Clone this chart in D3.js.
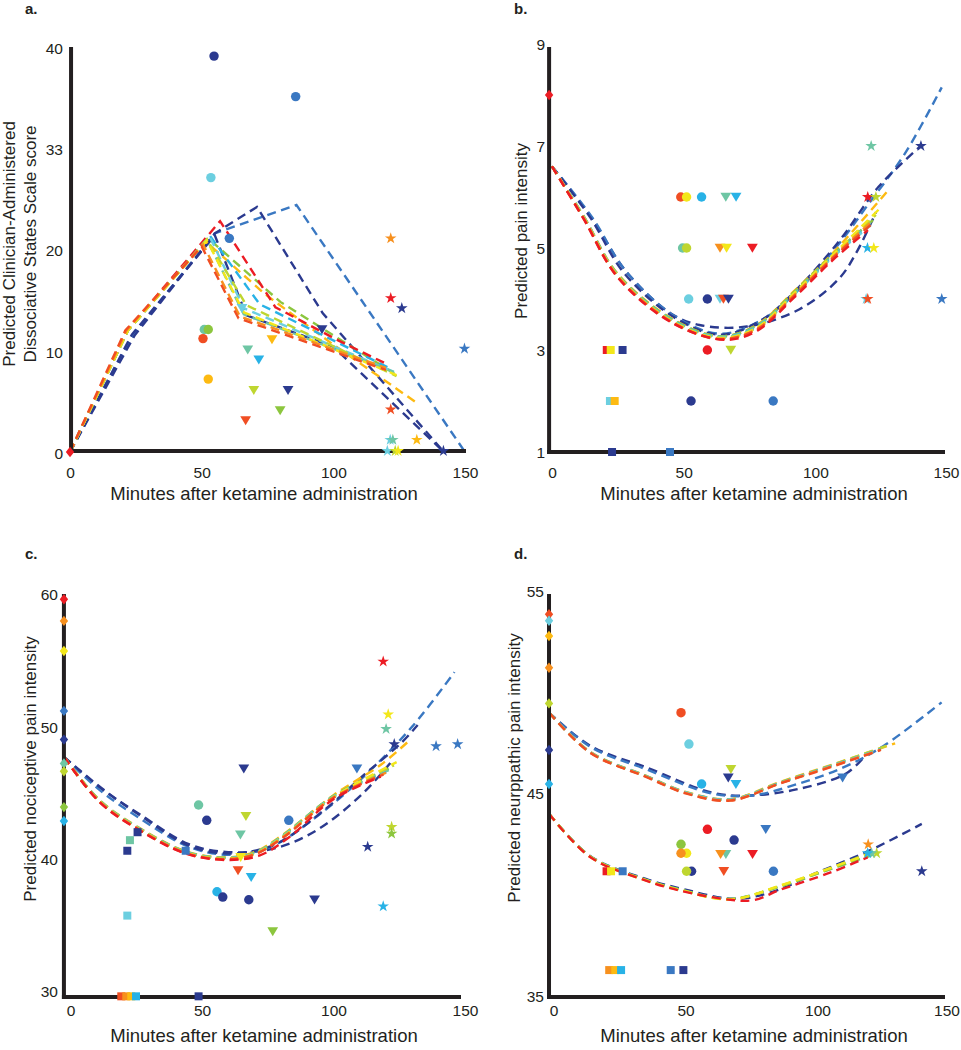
<!DOCTYPE html>
<html><head><meta charset="utf-8">
<script src="https://cdnjs.cloudflare.com/ajax/libs/d3/7.8.5/d3.min.js"></script>
<style>
html,body{margin:0;padding:0;background:#fff;}
text{font-family:"Liberation Sans",Arial,sans-serif;fill:#231f20;}
</style></head>
<body>
<svg id="chart" width="961" height="1050"></svg>
<script>
// ---------- palette ----------
const palette = {
  red:"#ec1c24", redorange:"#f04e23", orange:"#f7901e", gold:"#fdba12",
  yellow:"#f3e71a", ygreen:"#bfd630", green:"#8cc63e", teal:"#6ec6a4",
  lcyan:"#6ccfe0", sky:"#28b2e6", blue:"#3a78c2", navy:"#2b3a8f"
};

// ---------- tick labels ----------
const xTickValues = [0, 50, 100, 150];
const aYTickValues = [0, 10, 20, 30, 40];
const aYTickLabels = ["0", "10", "20", "33", "40"];
const bYTickValues = [1, 3, 5, 7, 9];
const cYTickValues = [30, 40, 50, 60];
const dYTickValues = [35, 45, 55];

// ---------- panel a: points [minute, value, shape, color] ----------
const aPoints = [
  [0,0,"diamond","red"],
  [54.7,39.1,"circle","navy"],[85.7,35.1,"circle","blue"],[53.5,27.1,"circle","lcyan"],
  [60.5,21.1,"circle","blue"],[51,12.1,"circle","teal"],[52.5,12.1,"circle","green"],
  [50.5,11.2,"circle","redorange"],[52.5,7.2,"circle","gold"],
  [65.3,14.2,"tri","lcyan"],[67.5,10.1,"tri","teal"],[71.7,9.1,"tri","sky"],[76.7,11.1,"tri","gold"],
  [95.7,12.1,"tri","navy"],[69.8,6.1,"tri","ygreen"],[82.8,6.1,"tri","navy"],
  [79.8,4.1,"tri","green"],[66.7,3.1,"tri","redorange"],
  [121.8,21.1,"star","orange"],[121.8,15.2,"star","red"],[126,14.2,"star","navy"],
  [149.8,10.2,"star","blue"],[121.8,4.2,"star","redorange"],[121.6,1.2,"star","lcyan"],
  [122.6,1.2,"star","teal"],[131.7,1.2,"star","gold"],[120.5,0.1,"star","lcyan"],
  [123.5,0.1,"star","ygreen"],[124.6,0.1,"star","yellow"],[141.8,0.1,"star","navy"]
];
// ---------- panel a: predicted curves [color, [[minute,value],...]] ----------
const aCurves = [
  ["blue",     [[0,0],[24,11.6],[55,21.6],[86,24.4],[150,0]]],
  ["navy",     [[0,0],[24.5,11.5],[55,21.6],[71,24.2],[96,13.7],[142,0]]],
  ["navy",     [[0,0],[23.5,11.6],[55,21.4],[67,13.5],[100,10.4],[142,0]]],
  ["green",    [[0,0],[22,12],[52.5,21.1],[80,14.8],[124,7.6]]],
  ["gold",     [[0,0],[22,12],[51.5,20.8],[74,15.6],[100,10.6],[132,4.8]]],
  ["sky",      [[0,0],[22,12],[53,21.4],[72,14.6],[122,8.2]]],
  ["red",      [[0,0],[22,12.1],[57,22.8],[78,14.3],[102,11],[121,8.6]]],
  ["lcyan",    [[0,0],[22,12],[53,21.3],[66,14.2],[124,7.8]]],
  ["teal",     [[0,0],[22,12],[52,21],[66,13.6],[123,7.9]]],
  ["ygreen",   [[0,0],[22,12],[52,21],[67,14.5],[124,7.5]]],
  ["yellow",   [[0,0],[22,12],[52,20.9],[66,13.8],[124,7.6]]],
  ["orange",   [[0,0],[21.5,12],[50.5,20.5],[64.5,13.4],[120,8.3]]],
  ["redorange",[[0,0],[21,12],[50,20.3],[64,13.2],[120,8.1]]]
];

// ---------- panel b ----------
const bPoints = [
  [-1.1,8,"diamond","red"],
  [48.9,6,"circle","redorange"],[51.1,6,"circle","yellow"],[56.8,6,"circle","sky"],
  [66,6,"tri","teal"],[69.9,6,"tri","sky"],
  [49.6,5,"circle","teal"],[51.1,5,"circle","ygreen"],
  [63.8,5,"tri","orange"],[66.3,5,"tri","yellow"],[76.1,5,"tri","red"],
  [51.9,4,"circle","lcyan"],[59,4,"circle","navy"],
  [63.8,4,"tri","lcyan"],[65.1,4,"tri","redorange"],[67,4,"tri","navy"],
  [20.8,3,"square","red"],[22.3,3,"square","yellow"],[26.8,3,"square","navy"],
  [59,3,"circle","red"],[67.9,3,"tri","ygreen"],
  [22,2,"square","lcyan"],[23.8,2,"square","gold"],[52.8,2,"circle","navy"],[84,2,"circle","blue"],
  [22.8,1,"square","navy"],[44.8,1,"square","blue"],
  [121.2,7,"star","teal"],[140.1,7,"star","navy"],
  [119.9,6,"star","red"],[123,6,"star","ygreen"],
  [119.8,5,"star","sky"],[122.2,5,"star","yellow"],
  [119.3,4,"star","lcyan"],[119.9,4,"star","redorange"],[148,4,"star","blue"]
];
const bCurves = [
  ["navy",     [[0,6.6],[15,5.6],[28,4.55],[45,3.72],[56,3.49],[74,3.46],[94,3.8],[109,4.4],[116,4.95],[123,5.7]]],
  ["blue",     [[0,6.6],[15,5.62],[28,4.55],[47,3.65],[64,3.32],[80,3.6],[95,4.25],[110,5.15],[120,5.85],[134,6.85],[148,8.15]]],
  ["navy",     [[0,6.6],[14.5,5.6],[27.5,4.5],[47,3.62],[64,3.3],[80,3.6],[95,4.3],[110,5.2],[124,6.2],[140,7.0]]],
  ["gold",     [[0,6.6],[12,5.63],[25,4.49],[46,3.6],[64,3.27],[78,3.5],[92,4.16],[107,4.92],[128,6.15]]],
  ["green",    [[0,6.6],[12,5.62],[25,4.48],[46,3.59],[64,3.27],[78,3.49],[92,4.14],[107,4.89],[122,5.55]]],
  ["teal",     [[0,6.6],[12,5.62],[25,4.47],[46,3.58],[64,3.26],[78,3.48],[92,4.12],[107,4.87],[121,5.5]]],
  ["sky",      [[0,6.6],[12,5.61],[25,4.46],[46,3.57],[64,3.25],[78,3.46],[92,4.1],[107,4.85],[121,5.45]]],
  ["lcyan",    [[0,6.6],[12,5.61],[25,4.46],[46,3.56],[64,3.25],[78,3.45],[92,4.09],[107,4.84],[120,5.4]]],
  ["ygreen",   [[0,6.6],[12,5.6],[25,4.45],[46,3.56],[64,3.24],[78,3.45],[92,4.12],[107,4.88],[123,5.65]]],
  ["yellow",   [[0,6.6],[12,5.6],[25,4.45],[46,3.55],[64,3.23],[78,3.44],[92,4.11],[107,4.88],[124,5.75]]],
  ["orange",   [[0,6.6],[12,5.59],[25,4.44],[46,3.54],[64,3.22],[78,3.42],[92,4.08],[107,4.84],[122,5.55]]],
  ["redorange",[[0,6.6],[12,5.58],[25,4.43],[46,3.53],[64,3.21],[78,3.41],[92,4.06],[107,4.82],[121,5.45]]],
  ["red",      [[0,6.6],[12,5.57],[25,4.42],[46,3.52],[66,3.2],[78,3.38],[92,4.03],[107,4.78],[120,5.35]]]
];

// ---------- panel c ----------
const cPoints = [
  [-2.5,59.9,"diamond","red"],[-2.5,58.27,"diamond","orange"],[-2.5,56.0,"diamond","yellow"],
  [-2.5,51.47,"diamond","blue"],[-2.5,49.3,"diamond","navy"],[-2.5,47.5,"diamond","teal"],
  [-2.5,46.9,"diamond","ygreen"],[-2.5,44.2,"diamond","green"],[-2.5,43.15,"diamond","sky"],
  [25.5,42.3,"square","navy"],[22.6,41.7,"square","teal"],[21.6,40.9,"square","navy"],
  [43.8,40.9,"square","blue"],[21.6,36.0,"square","lcyan"],
  [19.3,29.9,"square","redorange"],[21.2,29.9,"square","orange"],[23.1,29.9,"square","gold"],
  [24.9,29.9,"square","sky"],[48.7,29.9,"square","navy"],
  [48.7,44.36,"circle","teal"],[51.8,43.2,"circle","navy"],[83,43.2,"circle","blue"],
  [55.7,37.8,"circle","sky"],[57.9,37.4,"circle","navy"],[67.8,37.2,"circle","navy"],
  [65.9,47.1,"tri","navy"],[108.9,47.1,"tri","blue"],[66.7,43.5,"tri","ygreen"],
  [64.6,42.1,"tri","teal"],[64.7,40.4,"tri","yellow"],[63.7,39.4,"tri","redorange"],
  [68.7,38.9,"tri","sky"],[92.8,37.2,"tri","navy"],[76.9,34.8,"tri","green"],
  [118.9,55.2,"star","red"],[120.8,51.2,"star","yellow"],[120,50.1,"star","teal"],
  [123.1,48.95,"star","navy"],[139,48.8,"star","blue"],[147.2,48.95,"star","blue"],
  [122.1,42.7,"star","ygreen"],[122.1,42.2,"star","green"],[113,41.2,"star","navy"],
  [118.9,36.7,"star","sky"]
];
const cCurves = [
  ["navy",     [[-2.5,48],[11,45.7],[26,43.7],[45,41.4],[60,40.8],[78,41.1],[94,42.5],[111,45.2],[122.7,47.8]]],
  ["blue",     [[-2.5,48],[11,45.5],[26,43.4],[45,41.2],[60,40.6],[76,41.2],[95,43.7],[112,46.6],[130,50.3],[146,54.4]]],
  ["navy",     [[-2.5,48],[12,45.6],[27,43.5],[46,41.2],[62,40.7],[78,41.4],[96,43.9],[112,46.7],[126,49.1],[132,50.4]]],
  ["gold",     [[-2.5,48],[11,44.75],[26,42.65],[44,40.85],[59,40.4],[70,40.8],[81,42.15],[100,45.1],[118,47.4],[128.4,49.15]]],
  ["green",    [[-2.5,48],[11,44.72],[26,42.62],[44,40.82],[59,40.37],[70,40.75],[81,42.1],[100,45.05],[122,47.2]]],
  ["teal",     [[-2.5,48],[11,44.7],[26,42.6],[44,40.8],[59,40.35],[70,40.73],[81,42.07],[100,45.02],[121,47.0]]],
  ["lcyan",    [[-2.5,48],[11,44.68],[26,42.58],[44,40.78],[59,40.33],[70,40.71],[81,42.04],[100,44.99],[120,46.9]]],
  ["sky",      [[-2.5,48],[11,44.66],[26,42.56],[44,40.76],[59,40.31],[70,40.69],[81,42.01],[100,44.96],[120,46.85]]],
  ["ygreen",   [[-2.5,48],[11,44.65],[26,42.55],[44,40.75],[59,40.3],[70,40.68],[81,42.0],[100,44.97],[123,47.35]]],
  ["yellow",   [[-2.5,48],[11,44.64],[26,42.54],[44,40.74],[59,40.29],[70,40.67],[81,41.98],[100,44.95],[124,47.6]]],
  ["orange",   [[-2.5,48],[11,44.62],[26,42.52],[44,40.72],[59,40.27],[70,40.64],[81,41.95],[100,44.92],[120,46.8]]],
  ["redorange",[[-2.5,48],[11,44.6],[26,42.5],[44,40.7],[59,40.25],[70,40.62],[81,41.92],[100,44.9],[119,46.65]]],
  ["red",      [[-2.5,48],[11,44.58],[26,42.47],[44,40.67],[60,40.2],[72,40.55],[83,41.9],[100,44.8],[118,46.5]]]
];

// ---------- panel d ----------
const dPoints = [
  [-1.7,53.85,"diamond","redorange"],[-1.7,53.53,"diamond","lcyan"],[-1.7,52.78,"diamond","gold"],
  [-1.7,51.21,"diamond","orange"],[-1.7,49.45,"diamond","ygreen"],[-1.7,47.15,"diamond","navy"],
  [-1.7,45.47,"diamond","sky"],
  [48.3,48.99,"circle","redorange"],[51.3,47.44,"circle","lcyan"],[56.1,45.47,"circle","sky"],
  [58.3,43.23,"circle","red"],[68.4,42.7,"circle","navy"],[48.3,42.49,"circle","green"],
  [50.4,42.05,"circle","yellow"],[48.3,42.05,"circle","orange"],
  [52.3,41.16,"circle","navy"],[50.4,41.16,"circle","ygreen"],[83.3,41.16,"circle","blue"],
  [67.2,46.2,"tri","ygreen"],[66.2,45.78,"tri","navy"],[69.1,45.45,"tri","sky"],
  [109.5,45.78,"tri","blue"],[80.4,43.23,"tri","blue"],
  [65.3,42.0,"tri","teal"],[63.3,42.0,"tri","orange"],[75.4,42.0,"tri","red"],[64.5,41.16,"tri","redorange"],
  [20.1,41.16,"square","red"],[21.8,41.16,"square","yellow"],[26.2,41.16,"square","blue"],
  [21.1,36.28,"square","orange"],[23.4,36.28,"square","gold"],[25.6,36.28,"square","sky"],
  [44.4,36.28,"square","blue"],[49.2,36.28,"square","navy"],
  [119.2,42.49,"star","orange"],[122.4,42.05,"star","ygreen"],[120.5,42.05,"star","teal"],
  [119,42.05,"star","sky"],[139.5,41.16,"star","navy"]
];
const dCurves = [
  ["navy",     [[-1.7,49],[14,47.35],[35,46.3],[60,45.05],[73,44.9],[92,45.2],[111,46.0],[118.6,46.95]]],
  ["blue",     [[-1.7,49],[14,47.3],[35,46.2],[60,45.0],[75,44.9],[92,45.45],[110,46.3],[125,47.35],[147,49.5]]],
  ["gold",     [[-1.7,49],[14,47.05],[35,45.88],[50,45.08],[67,44.72],[86,45.58],[105,46.4],[129.4,47.48]]],
  ["ygreen",   [[-1.7,49],[14,47.04],[35,45.87],[50,45.07],[67,44.71],[86,45.56],[105,46.38],[126,47.35]]],
  ["sky",      [[-1.7,49],[14,47.03],[35,45.86],[50,45.06],[67,44.7],[86,45.54],[105,46.36],[124,47.2]]],
  ["lcyan",    [[-1.7,49],[14,47.02],[35,45.85],[50,45.05],[67,44.69],[86,45.52],[105,46.34],[124,47.18]]],
  ["orange",   [[-1.7,49],[14,47.01],[35,45.84],[50,45.03],[67,44.67],[86,45.52],[105,46.33],[124,47.17]]],
  ["redorange",[[-1.7,49],[14,47.0],[35,45.82],[50,45.01],[67,44.65],[86,45.5],[105,46.3],[124,47.15]]],
  ["navy",     [[-1.7,44],[14,41.9],[35,40.78],[50,40.25],[68,39.8],[82,40.1],[100,41.1],[120,42.2],[139.5,43.5]]],
  ["teal",     [[-1.7,44],[14,41.89],[35,40.74],[48,40.26],[67,39.8],[86,40.42],[105,41.27],[120.5,41.95]]],
  ["green",    [[-1.7,44],[14,41.88],[35,40.73],[48,40.25],[67,39.79],[86,40.42],[105,41.28],[121,42.0]]],
  ["ygreen",   [[-1.7,44],[14,41.87],[35,40.72],[48,40.24],[67,39.78],[86,40.45],[105,41.32],[122.4,42.2]]],
  ["yellow",   [[-1.7,44],[14,41.86],[35,40.71],[48,40.23],[67,39.77],[86,40.46],[105,41.33],[122,42.12]]],
  ["red",      [[-1.7,44],[14,41.85],[35,40.7],[48,40.2],[67,39.75],[76,39.74],[86,40.25],[105,41.1],[119,41.85]]]
];

// ---------- layout (positions/styles) ----------
const panels = [
  {label:"a.", labelX:25, labelY:14, pts:aPoints, curves:aCurves, curve:d3.curveLinear,
   xr:[70,465], yd:[0,40], yr:[452,47], axisT:0.4, yTop:47, yBot:453, xEnd:466, xAxisY:451,
   yTicks:aYTickValues, yLabels:aYTickLabels, yLabRight:63, yLabDy:1, xLabY:473, lastDx:0,
   titleX:264, titleY:500, yTitle:["Predicted Clinician-Administered","Dissociative States Scale score"],
   yTitleX:[15,36], yTitleY:244},
  {label:"b.", labelX:514, labelY:14, pts:bPoints, curves:bCurves, curve:d3.curveCatmullRom,
   xr:[552,947], yd:[1,9], yr:[452,44], axisT:-1.1, yTop:47, yBot:454, xEnd:945, xAxisY:452,
   yTicks:bYTickValues, yLabels:bYTickValues.map(String), yLabRight:545, yLabDy:0, xLabY:473, lastDx:-1,
   titleX:754, titleY:500, yTitle:["Predicted pain intensity"], yTitleX:[527], yTitleY:231},
  {label:"c.", labelX:25, labelY:559, pts:cPoints, curves:cCurves, curve:d3.curveCatmullRom,
   xr:[70.5,465], yd:[30,60], yr:[995,598], axisT:-2.5, yTop:594, yBot:999, xEnd:461, xAxisY:997,
   yTicks:cYTickValues, yLabels:cYTickValues.map(String), yLabRight:58, yLabDy:-3.5, xLabY:1011, lastDx:0,
   titleX:264, titleY:1042, yTitle:["Predicted nociceptive pain intensity"], yTitleX:[36], yTitleY:769},
  {label:"d.", labelX:514, labelY:559, pts:dPoints, curves:dCurves, curve:d3.curveCatmullRom,
   xr:[553.5,949.5], yd:[35,55], yr:[996,591], axisT:-1.7, yTop:594, yBot:999, xEnd:945, xAxisY:997,
   yTicks:dYTickValues, yLabels:dYTickValues.map(String), yLabRight:544, yLabDy:0, xLabY:1011, lastDx:-3,
   titleX:754, titleY:1042, yTitle:["Predicted neurppathic pain intensity"], yTitleX:[520], yTitleY:768}
];

const svg = d3.select("#chart");

function markerPath(shape){
  switch(shape){
    case "circle": return d3.symbol().type(d3.symbolCircle).size(70)();
    case "square": return "M-4,-4H4V4H-4Z";
    case "diamond": return "M0,-5.2L4.2,0L0,5.2L-4.2,0Z";
    case "tri": return "M-5.4,-4.3L5.4,-4.3L0,4.7Z";
    case "star": return d3.symbol().type(d3.symbolStar).size(42)();
  }
}

panels.forEach(p => {
  const x = d3.scaleLinear().domain([0,150]).range(p.xr);
  const y = d3.scaleLinear().domain(p.yd).range(p.yr);
  const g = svg.append("g");
  const ax = x(p.axisT);

  // curves
  const line = d3.line().x(d => x(d[0])).y(d => y(d[1])).curve(p.curve);
  g.append("g").selectAll("path").data(p.curves).join("path")
    .attr("d", d => line(d[1]))
    .attr("fill","none")
    .attr("stroke", d => palette[d[0]])
    .attr("stroke-width", 2.4)
    .attr("stroke-dasharray","9,5.5");

  // axes lines
  g.append("line").attr("x1",ax).attr("x2",ax).attr("y1",p.yTop).attr("y2",p.yBot)
    .attr("stroke","#231f20").attr("stroke-width",4);
  g.append("line").attr("x1",ax-2).attr("x2",p.xEnd).attr("y1",p.xAxisY).attr("y2",p.xAxisY)
    .attr("stroke","#231f20").attr("stroke-width",4);

  // tick labels via d3 axes
  const yAxis = d3.axisLeft(y).tickValues(p.yTicks).tickSize(0)
    .tickFormat((d,i) => p.yLabels[i]).tickPadding(0);
  const yg = g.append("g").attr("transform",`translate(${p.yLabRight},${p.yLabDy})`).call(yAxis);
  yg.select(".domain").remove();
  yg.selectAll("text").attr("font-size",15.5).attr("font-family","Liberation Sans, Arial, sans-serif")
    .attr("fill","#231f20").attr("dy","0.35em");

  const xAxis = d3.axisBottom(x).tickValues(xTickValues).tickSize(0).tickPadding(0);
  const xg = g.append("g").attr("transform",`translate(0,${p.xLabY})`).call(xAxis);
  xg.select(".domain").remove();
  xg.selectAll("text").attr("font-size",15.5).attr("font-family","Liberation Sans, Arial, sans-serif")
    .attr("fill","#231f20").attr("dy","0.35em").attr("y",0)
    .attr("dx", d => d === 150 ? p.lastDx : 0);

  // points
  g.append("g").selectAll("path").data(p.pts).join("path")
    .attr("d", d => markerPath(d[2]))
    .attr("transform", d => `translate(${x(d[0])},${y(d[1])})`)
    .attr("fill", d => palette[d[3]]);

  // titles
  g.append("text").attr("x",p.titleX).attr("y",p.titleY).attr("text-anchor","middle")
    .attr("font-size",18.5).text("Minutes after ketamine administration");
  p.yTitle.forEach((t,i) => {
    g.append("text").attr("transform",`translate(${p.yTitleX[i]},${p.yTitleY}) rotate(-90)`)
      .attr("text-anchor","middle").attr("font-size",17).text(t);
  });
  g.append("text").attr("x",p.labelX).attr("y",p.labelY).attr("font-size",15)
    .attr("font-weight","bold").text(p.label);
});
</script>
</body></html>
